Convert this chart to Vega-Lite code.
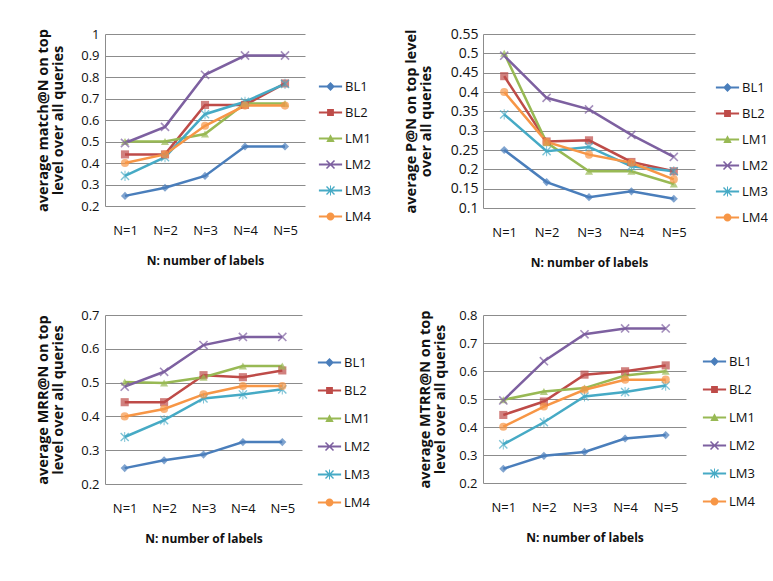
{
  "$schema": "https://vega.github.io/schema/vega-lite/v6.json",
  "background": "white",
  "padding": {"left": 35, "top": 27, "right": 0, "bottom": 0},
  "config": {
    "font": "Open Sans",
    "view": {"stroke": null},
    "axis": {
      "labelFont": "Open Sans", "labelFontSize": 13, "labelColor": "#111",
      "titleFont": "Open Sans", "titleFontWeight": "bold", "titleColor": "#111"
    },
    "axisX": {"labelAngle": 0, "domain": false, "ticks": false, "grid": false, "labelPadding": 18, "titlePadding": 18, "titleFontSize": 12},
    "axisY": {"grid": true, "gridColor": "#8c8c8c", "gridOpacity": 1, "gridWidth": 1, "domainColor": "#8c8c8c", "ticks": false, "labelOverlap": false, "labelPadding": 6, "titlePadding": 15, "titleFontSize": 14.5, "titleLineHeight": 15, "format": "~g"},
    "legend": {"labelFont": "Open Sans", "labelFontSize": 13, "labelColor": "#111", "symbolSize": 64, "symbolStrokeWidth": 0, "rowPadding": 12, "labelOffset": 8, "title": null, "orient": "none"},
    "point": {"filled": true, "strokeWidth": 0}
  },
  "datasets": {
    "match": [
      {"series": "BL1", "n": "N=1", "value": 0.247}, {"series": "BL1", "n": "N=2", "value": 0.285}, {"series": "BL1", "n": "N=3", "value": 0.34}, {"series": "BL1", "n": "N=4", "value": 0.477}, {"series": "BL1", "n": "N=5", "value": 0.477},
      {"series": "BL2", "n": "N=1", "value": 0.44}, {"series": "BL2", "n": "N=2", "value": 0.44}, {"series": "BL2", "n": "N=3", "value": 0.67}, {"series": "BL2", "n": "N=4", "value": 0.67}, {"series": "BL2", "n": "N=5", "value": 0.77},
      {"series": "LM1", "n": "N=1", "value": 0.5}, {"series": "LM1", "n": "N=2", "value": 0.5}, {"series": "LM1", "n": "N=3", "value": 0.535}, {"series": "LM1", "n": "N=4", "value": 0.677}, {"series": "LM1", "n": "N=5", "value": 0.677},
      {"series": "LM2", "n": "N=1", "value": 0.493}, {"series": "LM2", "n": "N=2", "value": 0.568}, {"series": "LM2", "n": "N=3", "value": 0.81}, {"series": "LM2", "n": "N=4", "value": 0.9}, {"series": "LM2", "n": "N=5", "value": 0.9},
      {"series": "LM3", "n": "N=1", "value": 0.34}, {"series": "LM3", "n": "N=2", "value": 0.427}, {"series": "LM3", "n": "N=3", "value": 0.627}, {"series": "LM3", "n": "N=4", "value": 0.685}, {"series": "LM3", "n": "N=5", "value": 0.768},
      {"series": "LM4", "n": "N=1", "value": 0.4}, {"series": "LM4", "n": "N=2", "value": 0.44}, {"series": "LM4", "n": "N=3", "value": 0.573}, {"series": "LM4", "n": "N=4", "value": 0.667}, {"series": "LM4", "n": "N=5", "value": 0.667}
    ],
    "prec": [
      {"series": "BL1", "n": "N=1", "value": 0.25}, {"series": "BL1", "n": "N=2", "value": 0.167}, {"series": "BL1", "n": "N=3", "value": 0.128}, {"series": "BL1", "n": "N=4", "value": 0.143}, {"series": "BL1", "n": "N=5", "value": 0.124},
      {"series": "BL2", "n": "N=1", "value": 0.441}, {"series": "BL2", "n": "N=2", "value": 0.272}, {"series": "BL2", "n": "N=3", "value": 0.275}, {"series": "BL2", "n": "N=4", "value": 0.219}, {"series": "BL2", "n": "N=5", "value": 0.195},
      {"series": "LM1", "n": "N=1", "value": 0.5}, {"series": "LM1", "n": "N=2", "value": 0.269}, {"series": "LM1", "n": "N=3", "value": 0.195}, {"series": "LM1", "n": "N=4", "value": 0.195}, {"series": "LM1", "n": "N=5", "value": 0.162},
      {"series": "LM2", "n": "N=1", "value": 0.494}, {"series": "LM2", "n": "N=2", "value": 0.385}, {"series": "LM2", "n": "N=3", "value": 0.355}, {"series": "LM2", "n": "N=4", "value": 0.289}, {"series": "LM2", "n": "N=5", "value": 0.232},
      {"series": "LM3", "n": "N=1", "value": 0.342}, {"series": "LM3", "n": "N=2", "value": 0.247}, {"series": "LM3", "n": "N=3", "value": 0.258}, {"series": "LM3", "n": "N=4", "value": 0.208}, {"series": "LM3", "n": "N=5", "value": 0.195},
      {"series": "LM4", "n": "N=1", "value": 0.4}, {"series": "LM4", "n": "N=2", "value": 0.271}, {"series": "LM4", "n": "N=3", "value": 0.238}, {"series": "LM4", "n": "N=4", "value": 0.217}, {"series": "LM4", "n": "N=5", "value": 0.174}
    ],
    "mrr": [
      {"series": "BL1", "n": "N=1", "value": 0.247}, {"series": "BL1", "n": "N=2", "value": 0.27}, {"series": "BL1", "n": "N=3", "value": 0.287}, {"series": "BL1", "n": "N=4", "value": 0.324}, {"series": "BL1", "n": "N=5", "value": 0.324},
      {"series": "BL2", "n": "N=1", "value": 0.442}, {"series": "BL2", "n": "N=2", "value": 0.442}, {"series": "BL2", "n": "N=3", "value": 0.522}, {"series": "BL2", "n": "N=4", "value": 0.516}, {"series": "BL2", "n": "N=5", "value": 0.536},
      {"series": "LM1", "n": "N=1", "value": 0.502}, {"series": "LM1", "n": "N=2", "value": 0.499}, {"series": "LM1", "n": "N=3", "value": 0.516}, {"series": "LM1", "n": "N=4", "value": 0.549}, {"series": "LM1", "n": "N=5", "value": 0.549},
      {"series": "LM2", "n": "N=1", "value": 0.488}, {"series": "LM2", "n": "N=2", "value": 0.532}, {"series": "LM2", "n": "N=3", "value": 0.611}, {"series": "LM2", "n": "N=4", "value": 0.635}, {"series": "LM2", "n": "N=5", "value": 0.635},
      {"series": "LM3", "n": "N=1", "value": 0.339}, {"series": "LM3", "n": "N=2", "value": 0.389}, {"series": "LM3", "n": "N=3", "value": 0.453}, {"series": "LM3", "n": "N=4", "value": 0.465}, {"series": "LM3", "n": "N=5", "value": 0.48},
      {"series": "LM4", "n": "N=1", "value": 0.4}, {"series": "LM4", "n": "N=2", "value": 0.422}, {"series": "LM4", "n": "N=3", "value": 0.465}, {"series": "LM4", "n": "N=4", "value": 0.49}, {"series": "LM4", "n": "N=5", "value": 0.49}
    ],
    "mtrr": [
      {"series": "BL1", "n": "N=1", "value": 0.251}, {"series": "BL1", "n": "N=2", "value": 0.297}, {"series": "BL1", "n": "N=3", "value": 0.311}, {"series": "BL1", "n": "N=4", "value": 0.359}, {"series": "BL1", "n": "N=5", "value": 0.371},
      {"series": "BL2", "n": "N=1", "value": 0.443}, {"series": "BL2", "n": "N=2", "value": 0.491}, {"series": "BL2", "n": "N=3", "value": 0.587}, {"series": "BL2", "n": "N=4", "value": 0.599}, {"series": "BL2", "n": "N=5", "value": 0.62},
      {"series": "LM1", "n": "N=1", "value": 0.497}, {"series": "LM1", "n": "N=2", "value": 0.527}, {"series": "LM1", "n": "N=3", "value": 0.539}, {"series": "LM1", "n": "N=4", "value": 0.584}, {"series": "LM1", "n": "N=5", "value": 0.599},
      {"series": "LM2", "n": "N=1", "value": 0.495}, {"series": "LM2", "n": "N=2", "value": 0.635}, {"series": "LM2", "n": "N=3", "value": 0.731}, {"series": "LM2", "n": "N=4", "value": 0.752}, {"series": "LM2", "n": "N=5", "value": 0.752},
      {"series": "LM3", "n": "N=1", "value": 0.338}, {"series": "LM3", "n": "N=2", "value": 0.417}, {"series": "LM3", "n": "N=3", "value": 0.509}, {"series": "LM3", "n": "N=4", "value": 0.525}, {"series": "LM3", "n": "N=5", "value": 0.548},
      {"series": "LM4", "n": "N=1", "value": 0.401}, {"series": "LM4", "n": "N=2", "value": 0.473}, {"series": "LM4", "n": "N=3", "value": 0.533}, {"series": "LM4", "n": "N=4", "value": 0.569}, {"series": "LM4", "n": "N=5", "value": 0.569}
    ]
  },
  "bounds": "flush",
  "columns": 2,
  "spacing": {"row": 107, "column": 178},
  "resolve": {"scale": {"x": "independent", "y": "independent"}},
  "concat": [
    {
      "data": {"name": "match"},
      "width": 200, "height": 172,
      "resolve": {"scale": {"color": "independent", "shape": "independent"}},
      "encoding": {
        "x": {"field": "n", "type": "ordinal", "scale": {"padding": 0.5}, "title": "N: number of labels"},
        "y": {"field": "value", "type": "quantitative", "scale": {"domain": [0.2, 1]}, "axis": {"grid": true, "values": [0.2, 0.3, 0.4, 0.5, 0.6, 0.7, 0.8, 0.9, 1], "tickCount": 9, "labelOverlap": false}, "title": ["average match@N on top", "level over all queries"]}
      },
      "layer": [
        {"mark": {"type": "line", "strokeWidth": 2.5},
         "encoding": {
           "color": {"field": "series", "type": "nominal", "scale": {"domain": ["BL1", "BL2", "LM1", "LM2", "LM3", "LM4"], "range": ["#4a7ebb", "#be4b48", "#98b954", "#7d60a0", "#46aac5", "#f79646"]}, "legend": null}
         }},
        {"mark": {"type": "point", "filled": true, "size": 66},
         "encoding": {
           "color": {"field": "series", "type": "nominal", "scale": {"domain": ["BL1", "BL2", "LM1", "LM2", "LM3", "LM4"], "range": ["#4a7ebb", "#be4b48", "#98b954", "#7d60a0", "#46aac5", "#f79646"]}, "legend": null},
           "shape": {"field": "series", "type": "nominal", "scale": {"domain": ["BL1", "BL2", "LM1", "LM2", "LM3", "LM4"], "range": ["diamond", "square", "triangle-up", "M-0.86,-1.14L1.14,0.86L0.86,1.14L-1.14,-0.86Z M0.86,-1.14L1.14,-0.86L-0.86,1.14L-1.14,0.86Z", "M-0.88,-1.12L1.12,0.88L0.88,1.12L-1.12,-0.88Z M0.88,-1.12L1.12,-0.88L-0.88,1.12L-1.12,0.88Z M-0.12,-1.25L0.12,-1.25L0.12,1.25L-0.12,1.25Z", "circle"]}, "legend": null}
         }},
        {"mark": {"type": "point", "filled": true, "opacity": 0},
         "encoding": {
           "color": {"field": "series", "type": "nominal", "scale": {"domain": ["BL1", "BL2", "LM1", "LM2", "LM3", "LM4"], "range": ["#4a7ebb", "#be4b48", "#98b954", "#7d60a0", "#46aac5", "#f79646"]}, "legend": {"legendX": 219, "legendY": 46}},
           "shape": {"field": "series", "type": "nominal", "scale": {"domain": ["BL1", "BL2", "LM1", "LM2", "LM3", "LM4"], "range": ["M-2.9,-0.25L2.9,-0.25L2.9,0.25L-2.9,0.25Z M0,-1.1L1.1,0L0,1.1L-1.1,0Z", "M-2.9,-0.25L2.9,-0.25L2.9,0.25L-2.9,0.25Z M-0.85,-0.85L0.85,-0.85L0.85,0.85L-0.85,0.85Z", "M-2.9,-0.25L2.9,-0.25L2.9,0.25L-2.9,0.25Z M0,-1.05L1.05,0.85L-1.05,0.85Z", "M-2.9,-0.25L2.9,-0.25L2.9,0.25L-2.9,0.25Z M-0.86,-1.14L1.14,0.86L0.86,1.14L-1.14,-0.86Z M0.86,-1.14L1.14,-0.86L-0.86,1.14L-1.14,0.86Z", "M-2.9,-0.25L2.9,-0.25L2.9,0.25L-2.9,0.25Z M-0.88,-1.12L1.12,0.88L0.88,1.12L-1.12,-0.88Z M0.88,-1.12L1.12,-0.88L-0.88,1.12L-1.12,0.88Z M-0.12,-1.25L0.12,-1.25L0.12,1.25L-0.12,1.25Z", "M-2.9,-0.25L2.9,-0.25L2.9,0.25L-2.9,0.25Z M1,0A1,1,0,1,1,-1,0A1,1,0,1,1,1,0Z"]}, "legend": {"legendX": 219, "legendY": 46}}
         }}
      ]
    },
    {
      "data": {"name": "prec"},
      "width": 212, "height": 174,
      "resolve": {"scale": {"color": "independent", "shape": "independent"}},
      "encoding": {
        "x": {"field": "n", "type": "ordinal", "scale": {"padding": 0.5}, "title": "N: number of labels"},
        "y": {"field": "value", "type": "quantitative", "scale": {"domain": [0.1, 0.55]}, "axis": {"grid": true, "values": [0.1, 0.15, 0.2, 0.25, 0.3, 0.35, 0.4, 0.45, 0.5, 0.55], "tickCount": 10, "labelOverlap": false, "labelFontSize": 14, "labelPadding": 5, "titlePadding": 17}, "title": ["average P@N on top level", "over all queries"]}
      },
      "layer": [
        {"mark": {"type": "line", "strokeWidth": 2.5},
         "encoding": {
           "color": {"field": "series", "type": "nominal", "scale": {"domain": ["BL1", "BL2", "LM1", "LM2", "LM3", "LM4"], "range": ["#4a7ebb", "#be4b48", "#98b954", "#7d60a0", "#46aac5", "#f79646"]}, "legend": null}
         }},
        {"mark": {"type": "point", "filled": true, "size": 66},
         "encoding": {
           "color": {"field": "series", "type": "nominal", "scale": {"domain": ["BL1", "BL2", "LM1", "LM2", "LM3", "LM4"], "range": ["#4a7ebb", "#be4b48", "#98b954", "#7d60a0", "#46aac5", "#f79646"]}, "legend": null},
           "shape": {"field": "series", "type": "nominal", "scale": {"domain": ["BL1", "BL2", "LM1", "LM2", "LM3", "LM4"], "range": ["diamond", "square", "triangle-up", "M-0.86,-1.14L1.14,0.86L0.86,1.14L-1.14,-0.86Z M0.86,-1.14L1.14,-0.86L-0.86,1.14L-1.14,0.86Z", "M-0.88,-1.12L1.12,0.88L0.88,1.12L-1.12,-0.88Z M0.88,-1.12L1.12,-0.88L-0.88,1.12L-1.12,0.88Z M-0.12,-1.25L0.12,-1.25L0.12,1.25L-0.12,1.25Z", "circle"]}, "legend": null}
         }},
        {"mark": {"type": "point", "filled": true, "opacity": 0},
         "encoding": {
           "color": {"field": "series", "type": "nominal", "scale": {"domain": ["BL1", "BL2", "LM1", "LM2", "LM3", "LM4"], "range": ["#4a7ebb", "#be4b48", "#98b954", "#7d60a0", "#46aac5", "#f79646"]}, "legend": {"legendX": 238, "legendY": 47}},
           "shape": {"field": "series", "type": "nominal", "scale": {"domain": ["BL1", "BL2", "LM1", "LM2", "LM3", "LM4"], "range": ["M-2.9,-0.25L2.9,-0.25L2.9,0.25L-2.9,0.25Z M0,-1.1L1.1,0L0,1.1L-1.1,0Z", "M-2.9,-0.25L2.9,-0.25L2.9,0.25L-2.9,0.25Z M-0.85,-0.85L0.85,-0.85L0.85,0.85L-0.85,0.85Z", "M-2.9,-0.25L2.9,-0.25L2.9,0.25L-2.9,0.25Z M0,-1.05L1.05,0.85L-1.05,0.85Z", "M-2.9,-0.25L2.9,-0.25L2.9,0.25L-2.9,0.25Z M-0.86,-1.14L1.14,0.86L0.86,1.14L-1.14,-0.86Z M0.86,-1.14L1.14,-0.86L-0.86,1.14L-1.14,0.86Z", "M-2.9,-0.25L2.9,-0.25L2.9,0.25L-2.9,0.25Z M-0.88,-1.12L1.12,0.88L0.88,1.12L-1.12,-0.88Z M0.88,-1.12L1.12,-0.88L-0.88,1.12L-1.12,0.88Z M-0.12,-1.25L0.12,-1.25L0.12,1.25L-0.12,1.25Z", "M-2.9,-0.25L2.9,-0.25L2.9,0.25L-2.9,0.25Z M1,0A1,1,0,1,1,-1,0A1,1,0,1,1,1,0Z"]}, "legend": {"legendX": 238, "legendY": 47}}
         }}
      ]
    },
    {
      "data": {"name": "mrr"},
      "width": 197, "height": 169,
      "resolve": {"scale": {"color": "independent", "shape": "independent"}},
      "encoding": {
        "x": {"field": "n", "type": "ordinal", "scale": {"padding": 0.5}, "title": "N: number of labels"},
        "y": {"field": "value", "type": "quantitative", "scale": {"domain": [0.2, 0.7]}, "axis": {"grid": true, "values": [0.2, 0.3, 0.4, 0.5, 0.6, 0.7], "tickCount": 6, "labelOverlap": false}, "title": ["average MRR@N on top", "level over all queries"]}
      },
      "layer": [
        {"mark": {"type": "line", "strokeWidth": 2.5},
         "encoding": {
           "color": {"field": "series", "type": "nominal", "scale": {"domain": ["BL1", "BL2", "LM1", "LM2", "LM3", "LM4"], "range": ["#4a7ebb", "#be4b48", "#98b954", "#7d60a0", "#46aac5", "#f79646"]}, "legend": null}
         }},
        {"mark": {"type": "point", "filled": true, "size": 66},
         "encoding": {
           "color": {"field": "series", "type": "nominal", "scale": {"domain": ["BL1", "BL2", "LM1", "LM2", "LM3", "LM4"], "range": ["#4a7ebb", "#be4b48", "#98b954", "#7d60a0", "#46aac5", "#f79646"]}, "legend": null},
           "shape": {"field": "series", "type": "nominal", "scale": {"domain": ["BL1", "BL2", "LM1", "LM2", "LM3", "LM4"], "range": ["diamond", "square", "triangle-up", "M-0.86,-1.14L1.14,0.86L0.86,1.14L-1.14,-0.86Z M0.86,-1.14L1.14,-0.86L-0.86,1.14L-1.14,0.86Z", "M-0.88,-1.12L1.12,0.88L0.88,1.12L-1.12,-0.88Z M0.88,-1.12L1.12,-0.88L-0.88,1.12L-1.12,0.88Z M-0.12,-1.25L0.12,-1.25L0.12,1.25L-0.12,1.25Z", "circle"]}, "legend": null}
         }},
        {"mark": {"type": "point", "filled": true, "opacity": 0},
         "encoding": {
           "color": {"field": "series", "type": "nominal", "scale": {"domain": ["BL1", "BL2", "LM1", "LM2", "LM3", "LM4"], "range": ["#4a7ebb", "#be4b48", "#98b954", "#7d60a0", "#46aac5", "#f79646"]}, "legend": {"legendX": 218, "legendY": 41, "rowPadding": 14}},
           "shape": {"field": "series", "type": "nominal", "scale": {"domain": ["BL1", "BL2", "LM1", "LM2", "LM3", "LM4"], "range": ["M-2.9,-0.25L2.9,-0.25L2.9,0.25L-2.9,0.25Z M0,-1.1L1.1,0L0,1.1L-1.1,0Z", "M-2.9,-0.25L2.9,-0.25L2.9,0.25L-2.9,0.25Z M-0.85,-0.85L0.85,-0.85L0.85,0.85L-0.85,0.85Z", "M-2.9,-0.25L2.9,-0.25L2.9,0.25L-2.9,0.25Z M0,-1.05L1.05,0.85L-1.05,0.85Z", "M-2.9,-0.25L2.9,-0.25L2.9,0.25L-2.9,0.25Z M-0.86,-1.14L1.14,0.86L0.86,1.14L-1.14,-0.86Z M0.86,-1.14L1.14,-0.86L-0.86,1.14L-1.14,0.86Z", "M-2.9,-0.25L2.9,-0.25L2.9,0.25L-2.9,0.25Z M-0.88,-1.12L1.12,0.88L0.88,1.12L-1.12,-0.88Z M0.88,-1.12L1.12,-0.88L-0.88,1.12L-1.12,0.88Z M-0.12,-1.25L0.12,-1.25L0.12,1.25L-0.12,1.25Z", "M-2.9,-0.25L2.9,-0.25L2.9,0.25L-2.9,0.25Z M1,0A1,1,0,1,1,-1,0A1,1,0,1,1,1,0Z"]}, "legend": {"legendX": 218, "legendY": 41, "rowPadding": 14}}
         }}
      ]
    },
    {
      "data": {"name": "mtrr"},
      "width": 203, "height": 168,
      "resolve": {"scale": {"color": "independent", "shape": "independent"}},
      "encoding": {
        "x": {"field": "n", "type": "ordinal", "scale": {"padding": 0.5}, "title": "N: number of labels"},
        "y": {"field": "value", "type": "quantitative", "scale": {"domain": [0.2, 0.8]}, "axis": {"grid": true, "values": [0.2, 0.3, 0.4, 0.5, 0.6, 0.7, 0.8], "tickCount": 7, "labelOverlap": false, "titlePadding": 11}, "title": ["average MTRR@N  on top", "level over all queries"]}
      },
      "layer": [
        {"mark": {"type": "line", "strokeWidth": 2.5},
         "encoding": {
           "color": {"field": "series", "type": "nominal", "scale": {"domain": ["BL1", "BL2", "LM1", "LM2", "LM3", "LM4"], "range": ["#4a7ebb", "#be4b48", "#98b954", "#7d60a0", "#46aac5", "#f79646"]}, "legend": null}
         }},
        {"mark": {"type": "point", "filled": true, "size": 66},
         "encoding": {
           "color": {"field": "series", "type": "nominal", "scale": {"domain": ["BL1", "BL2", "LM1", "LM2", "LM3", "LM4"], "range": ["#4a7ebb", "#be4b48", "#98b954", "#7d60a0", "#46aac5", "#f79646"]}, "legend": null},
           "shape": {"field": "series", "type": "nominal", "scale": {"domain": ["BL1", "BL2", "LM1", "LM2", "LM3", "LM4"], "range": ["diamond", "square", "triangle-up", "M-0.86,-1.14L1.14,0.86L0.86,1.14L-1.14,-0.86Z M0.86,-1.14L1.14,-0.86L-0.86,1.14L-1.14,0.86Z", "M-0.88,-1.12L1.12,0.88L0.88,1.12L-1.12,-0.88Z M0.88,-1.12L1.12,-0.88L-0.88,1.12L-1.12,0.88Z M-0.12,-1.25L0.12,-1.25L0.12,1.25L-0.12,1.25Z", "circle"]}, "legend": null}
         }},
        {"mark": {"type": "point", "filled": true, "opacity": 0},
         "encoding": {
           "color": {"field": "series", "type": "nominal", "scale": {"domain": ["BL1", "BL2", "LM1", "LM2", "LM3", "LM4"], "range": ["#4a7ebb", "#be4b48", "#98b954", "#7d60a0", "#46aac5", "#f79646"]}, "legend": {"legendX": 225, "legendY": 40, "rowPadding": 14}},
           "shape": {"field": "series", "type": "nominal", "scale": {"domain": ["BL1", "BL2", "LM1", "LM2", "LM3", "LM4"], "range": ["M-2.9,-0.25L2.9,-0.25L2.9,0.25L-2.9,0.25Z M0,-1.1L1.1,0L0,1.1L-1.1,0Z", "M-2.9,-0.25L2.9,-0.25L2.9,0.25L-2.9,0.25Z M-0.85,-0.85L0.85,-0.85L0.85,0.85L-0.85,0.85Z", "M-2.9,-0.25L2.9,-0.25L2.9,0.25L-2.9,0.25Z M0,-1.05L1.05,0.85L-1.05,0.85Z", "M-2.9,-0.25L2.9,-0.25L2.9,0.25L-2.9,0.25Z M-0.86,-1.14L1.14,0.86L0.86,1.14L-1.14,-0.86Z M0.86,-1.14L1.14,-0.86L-0.86,1.14L-1.14,0.86Z", "M-2.9,-0.25L2.9,-0.25L2.9,0.25L-2.9,0.25Z M-0.88,-1.12L1.12,0.88L0.88,1.12L-1.12,-0.88Z M0.88,-1.12L1.12,-0.88L-0.88,1.12L-1.12,0.88Z M-0.12,-1.25L0.12,-1.25L0.12,1.25L-0.12,1.25Z", "M-2.9,-0.25L2.9,-0.25L2.9,0.25L-2.9,0.25Z M1,0A1,1,0,1,1,-1,0A1,1,0,1,1,1,0Z"]}, "legend": {"legendX": 225, "legendY": 40, "rowPadding": 14}}
         }}
      ]
    }
  ]
}
